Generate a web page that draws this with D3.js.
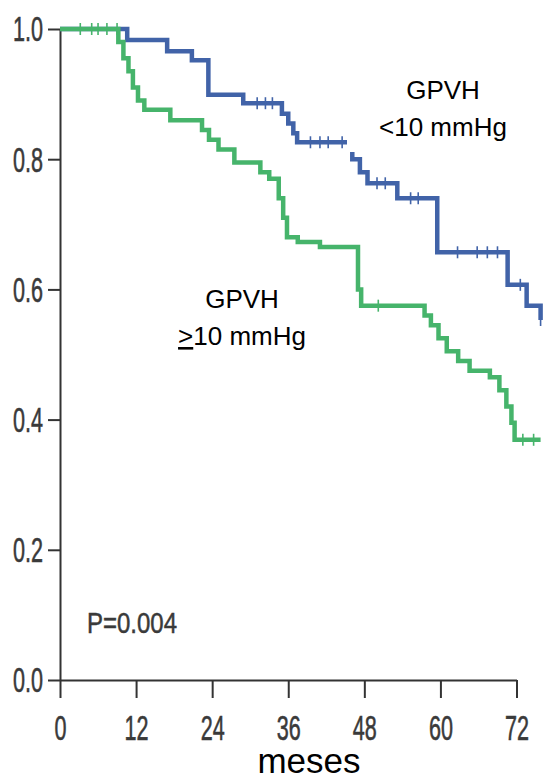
<!DOCTYPE html>
<html>
<head>
<meta charset="utf-8">
<script src="https://cdn.jsdelivr.net/npm/d3@7"></script>
<style>
  html, body { margin: 0; padding: 0; background: #fff; }
  svg { display: block; }
</style>
</head>
<body>
<div id="chart"></div>
<script>
// Kaplan-Meier curves (months, survival)
const lowTimes  = [0, 10.6, 16.9, 20.8, 23.4, 28.9, 35.0, 36.0, 36.8, 37.4, 46.1, 47.3, 48.5, 53.2, 59.5, 70.6, 73.6, 75.8];
const lowSurv   = [1.0, 0.983, 0.966, 0.952, 0.899, 0.886, 0.87, 0.855, 0.84, 0.826, 0.80, 0.78, 0.763, 0.740, 0.657, 0.607, 0.575, 0.553];
const lowCensor = [31.1, 32.4, 33.5, 39.5, 41.0, 42.3, 44.5, 50.0, 51.3, 55.3, 56.5, 62.7, 65.8, 67.4, 69.0, 72.6, 75.8];

const highTimes  = [0, 9.2, 10.0, 10.8, 11.5, 12.3, 13.3, 17.4, 22.4, 23.5, 25.0, 27.5, 31.6, 33.0, 34.5, 35.2, 35.8, 37.5, 41.0, 47.0, 47.5,
                    57.5, 58.5, 59.7, 61.0, 62.8, 64.6, 67.8, 69.3, 70.4, 71.2, 71.7, 75.8];
const highSurv   = [1.0, 0.98, 0.955, 0.935, 0.91, 0.89, 0.876, 0.86, 0.845, 0.83, 0.815, 0.795, 0.78, 0.77, 0.74, 0.71, 0.68, 0.673, 0.665, 0.60, 0.575,
                    0.56, 0.545, 0.525, 0.505, 0.49, 0.475, 0.465, 0.445, 0.42, 0.395, 0.369, 0.369];
const highCensor = [3.2, 5.0, 6.0, 7.4, 9.0, 50.2, 73.0, 74.7];

const xTicks = [0, 12, 24, 36, 48, 60, 72];
const yTicks = [0, 0.2, 0.4, 0.6, 0.8, 1.0];

const width = 543, height = 782;
const axisColor = '#333';
const tickTextColor = '#3a3a3a';
const lowColor = '#4163a8';
const highColor = '#46b46b';
const squeeze = 0.6; // condensed tick font

const svg = d3.select('#chart').append('svg')
  .attr('width', width)
  .attr('height', height);

const x = d3.scaleLinear().domain([0, 72]).range([60, 516.5]);
const y = d3.scaleLinear().domain([0, 1]).range([680, 29]);

// axes
const yAxis = svg.append('g')
  .attr('transform', `translate(${x(0)},0)`)
  .call(d3.axisLeft(y).tickValues(yTicks).tickSize(12).tickSizeOuter(0).tickFormat(d3.format('.1f')));

const xAxis = svg.append('g')
  .attr('transform', `translate(0,${y(0)})`)
  .call(d3.axisBottom(x).tickValues(xTicks).tickSize(18).tickSizeOuter(0));

[yAxis, xAxis].forEach(g => {
  g.select('.domain').attr('stroke', axisColor).attr('stroke-width', 2);
  g.selectAll('.tick line').attr('stroke', axisColor).attr('stroke-width', 2);
  g.selectAll('.tick text')
    .attr('fill', tickTextColor)
    .attr('stroke', tickTextColor)
    .attr('stroke-width', 0.6)
    .style('font-family', '"Liberation Sans", Arial, sans-serif')
    .style('font-size', '36px');
});

yAxis.selectAll('.tick text')
  .attr('x', -17 / squeeze)
  .attr('dy', '0.33em')
  .attr('transform', `scale(${squeeze},1)`);

xAxis.selectAll('.tick text')
  .attr('y', 60)
  .attr('dy', 0)
  .attr('transform', `scale(${squeeze},1)`)
  .attr('x', 0);

// curves
const line = d3.line()
  .x(d => x(d[0]))
  .y(d => y(d[1]))
  .curve(d3.curveStepAfter);

function stepAt(times, surv, t) {
  let v = surv[0];
  times.forEach((tt, i) => { if (tt <= t) v = surv[i]; });
  return v;
}

function drawCurve(times, surv, censor, color) {
  const pts = times.map((t, i) => [t, surv[i]]);
  svg.append('path')
    .datum(pts)
    .attr('fill', 'none')
    .attr('stroke', color)
    .attr('stroke-width', 4.5)
    .attr('d', line);

  svg.append('g')
    .selectAll('line')
    .data(censor)
    .join('line')
      .attr('x1', d => x(d))
      .attr('x2', d => x(d))
      .attr('y1', d => y(stepAt(times, surv, d)) - 6)
      .attr('y2', d => y(stepAt(times, surv, d)) + 6)
      .attr('stroke', color)
      .attr('stroke-width', 1.6);
}

drawCurve(lowTimes, lowSurv, lowCensor, lowColor);
drawCurve(highTimes, highSurv, highCensor, highColor);

// label boxes
const labelFont = '"Liberation Sans", Arial, sans-serif';

svg.append('rect')
  .attr('x', 347).attr('y', 60).attr('width', 190).attr('height', 92)
  .attr('fill', '#fff');

const lowLabel = svg.append('text')
  .attr('text-anchor', 'middle')
  .style('font-family', labelFont)
  .style('font-size', '26px')
  .attr('fill', '#000');
lowLabel.append('tspan').attr('x', 443).attr('y', 99).text('GPVH');
lowLabel.append('tspan').attr('x', 443).attr('y', 136).text('<10 mmHg');

svg.append('rect')
  .attr('x', 140).attr('y', 272).attr('width', 205).attr('height', 91)
  .attr('fill', '#fff');

const highLabel = svg.append('text')
  .attr('text-anchor', 'middle')
  .style('font-family', labelFont)
  .style('font-size', '26px')
  .attr('fill', '#000');
highLabel.append('tspan').attr('x', 242).attr('y', 308).text('GPVH');
const second = highLabel.append('tspan').attr('x', 242).attr('y', 345);
second.append('tspan').style('text-decoration', 'underline').text('>');
second.append('tspan').text('10 mmHg');

// p value
svg.append('text')
  .attr('x', 87).attr('y', 633)
  .attr('textLength', 90)
  .attr('lengthAdjust', 'spacingAndGlyphs')
  .attr('fill', tickTextColor)
  .attr('stroke', tickTextColor)
  .attr('stroke-width', 0.5)
  .style('font-family', labelFont)
  .style('font-size', '29px')
  .text('P=0.004');

// x axis title
svg.append('text')
  .attr('x', 309).attr('y', 773)
  .attr('text-anchor', 'middle')
  .attr('fill', '#000')
  .style('font-family', labelFont)
  .style('font-size', '35px')
  .text('meses');
</script>
</body>
</html>
